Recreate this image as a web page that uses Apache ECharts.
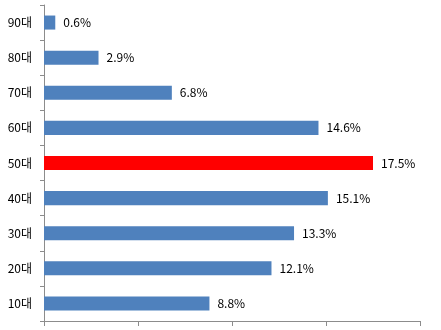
<!DOCTYPE html>
<html>
<head>
<meta charset="utf-8">
<script src="https://cdn.jsdelivr.net/npm/echarts@6/dist/echarts.min.js"></script>
<style>
  html, body { margin: 0; padding: 0; background: #fff; }
  #chart { width: 441px; height: 330px; }
</style>
</head>
<body>
<div id="chart"></div>
<script>
// Age groups, bottom to top
const categories = ['10대', '20대', '30대', '40대', '50대', '60대', '70대', '80대', '90대'];
// Share per age group (%)
const shares = [8.8, 12.1, 13.3, 15.1, 17.5, 14.6, 6.8, 2.9, 0.6];
// Group drawn in the highlight colour
const highlighted = '50대';

const chart = echarts.init(document.getElementById('chart'));

const barData = categories.map((c, i) => ({
  value: shares[i],
  itemStyle: { color: c === highlighted ? '#FF0000' : '#4F81BD' }
}));

chart.setOption({
  animation: false,
  textStyle: { fontFamily: '"Noto Sans CJK KR", "Noto Sans", sans-serif' },
  grid: { left: 44, right: 21, top: 5, bottom: 9, containLabel: false },
  xAxis: {
    type: 'value',
    min: 0,
    max: 20,
    interval: 5,
    axisLine: { show: true, lineStyle: { color: '#8c8c8c', width: 1 } },
    axisTick: { show: true, length: 5, lineStyle: { color: '#8c8c8c' } },
    axisLabel: { show: false },
    splitLine: { show: false }
  },
  yAxis: {
    type: 'category',
    data: categories,
    axisLine: { show: true, lineStyle: { color: '#8c8c8c', width: 1 } },
    axisTick: { show: true, length: 4, alignWithLabel: false, lineStyle: { color: '#8c8c8c' } },
    axisLabel: { color: '#000', fontSize: 12, margin: 12 }
  },
  series: [{
    type: 'bar',
    data: barData,
    barWidth: '40%',
    label: {
      show: true,
      position: 'right',
      distance: 8,
      color: '#000',
      fontSize: 12,
      formatter: p => p.value.toFixed(1) + '%'
    }
  }]
});
</script>
</body>
</html>
